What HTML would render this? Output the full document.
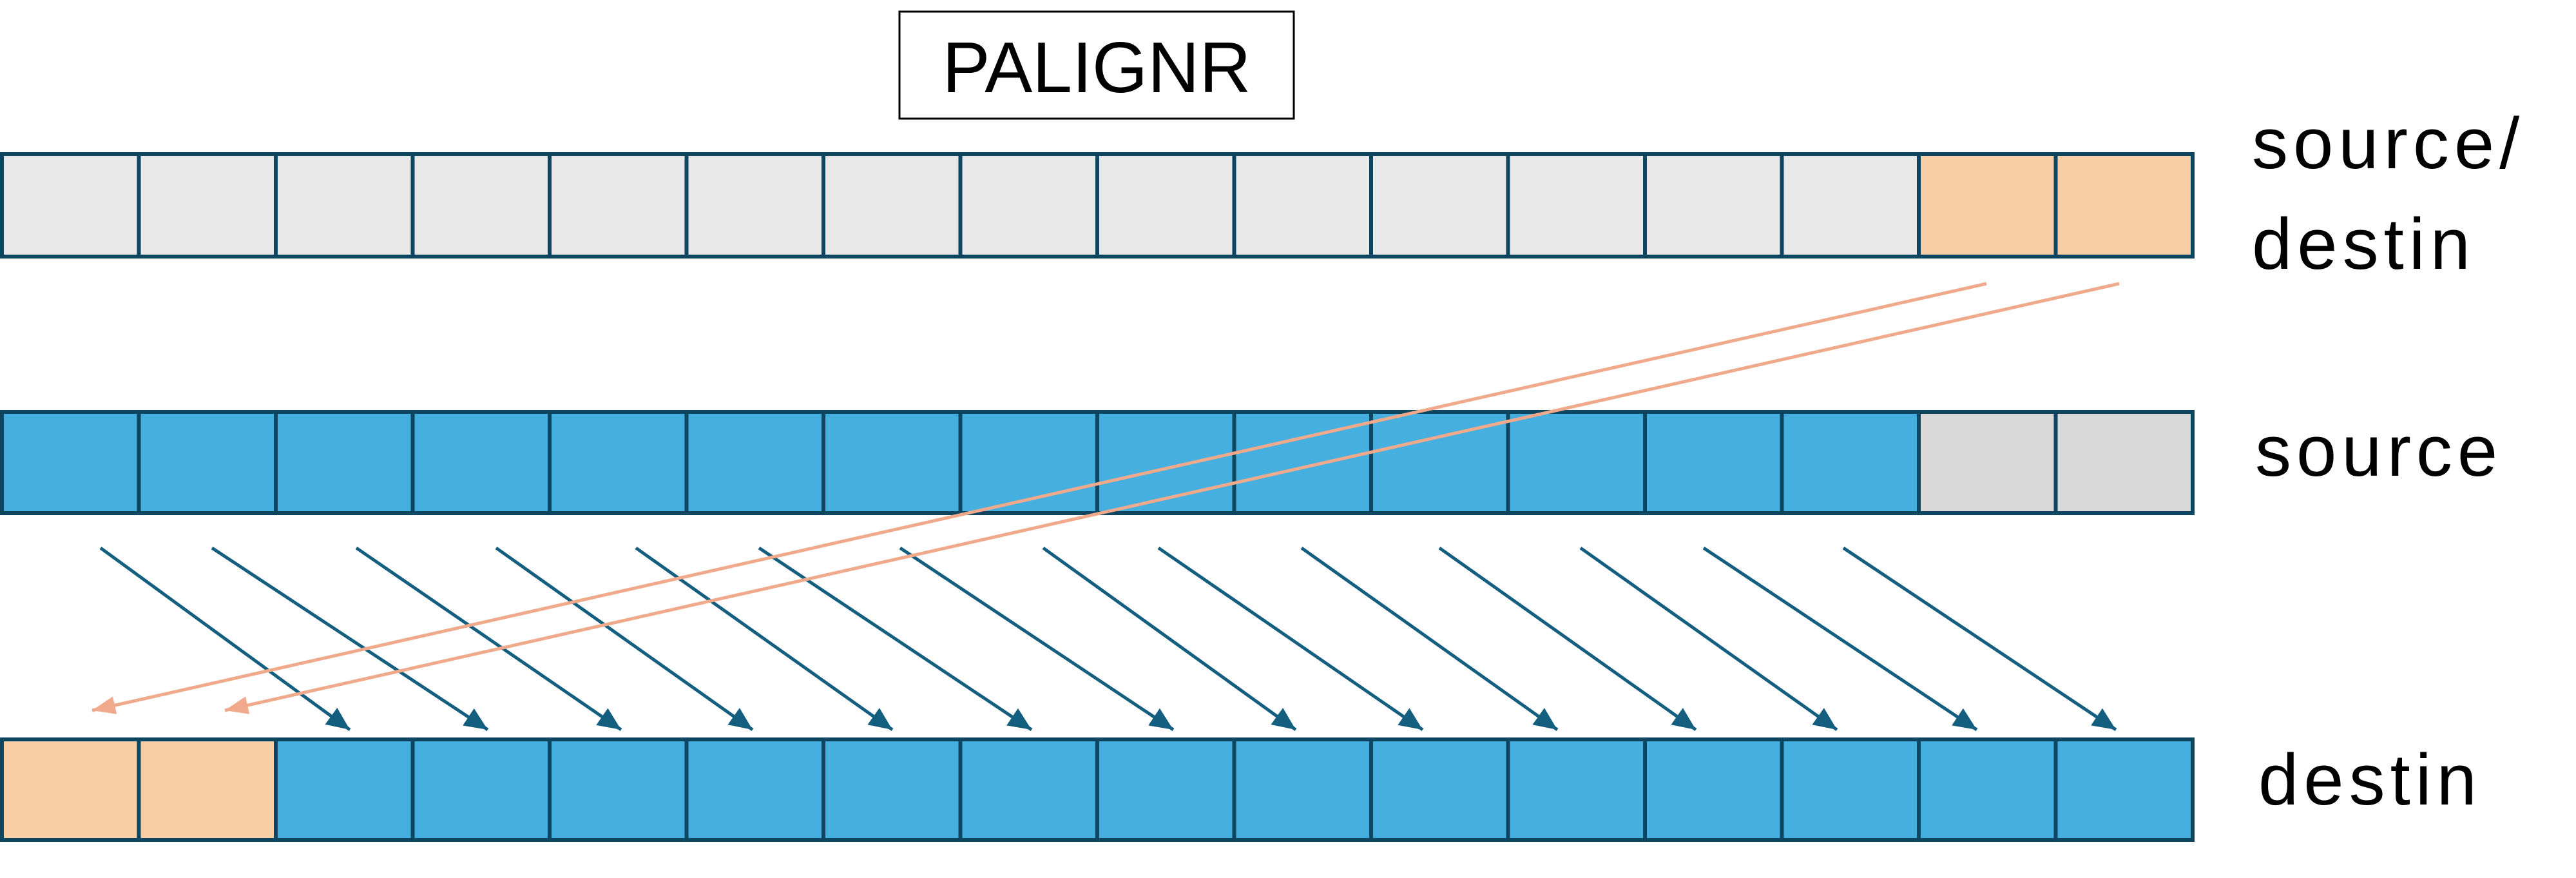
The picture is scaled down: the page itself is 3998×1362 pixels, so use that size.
<!DOCTYPE html>
<html><head><meta charset="utf-8"><style>
html,body{margin:0;padding:0;background:#fff;}
svg{display:block;}
</style></head><body>
<svg width="3998" height="1362" viewBox="0 0 3998 1362" xmlns="http://www.w3.org/2000/svg">
<defs>
<marker id="hb" markerUnits="userSpaceOnUse" markerWidth="40" markerHeight="40" viewBox="0 0 40 40" refX="36" refY="20" orient="auto"><path d="M0,4 L36,20 L0,36 Z" fill="#145e80"/></marker>
<marker id="ho" markerUnits="userSpaceOnUse" markerWidth="40" markerHeight="40" viewBox="0 0 40 40" refX="36" refY="20" orient="auto"><path d="M0,6 L36,20 L0,34 Z" fill="#f0a98a"/></marker>
</defs>
<rect x="1396" y="18" width="612" height="166" fill="#fff" stroke="#000" stroke-width="3"/>
<text x="1702" y="143" font-family="Liberation Sans, sans-serif" font-size="111" text-anchor="middle">PALIGNR</text>
<g id="cells" stroke="#0e4560" stroke-width="6"></g>
<g stroke="#145e80" stroke-width="5" fill="none" id="blue"></g>
<g stroke="#f0a98a" stroke-width="5" fill="none">
<line x1="3083" y1="440" x2="143" y2="1102" marker-end="url(#ho)"/>
<line x1="3289" y1="440" x2="349" y2="1102" marker-end="url(#ho)"/>
</g>
<g font-family="Liberation Sans, sans-serif" font-size="112" fill="#000" letter-spacing="8">
<text x="3495" y="261">source/</text>
<text x="3495" y="417">destin</text>
<text x="3500" y="738">source</text>
<text x="3505" y="1248">destin</text>
</g>
<script>
var ns="http://www.w3.org/2000/svg";
var g=document.getElementById('cells');
var rows=[[239,159,function(i){return i>=14?'#f8cfa5':'#e8e8e8';}],[639,157,function(i){return i>=14?'#d9d9d9':'#45afdf';}],[1147,156,function(i){return i<2?'#f8cfa5':'#45afdf';}]];
rows.forEach(function(r){for(var i=0;i<16;i++){var e=document.createElementNS(ns,'rect');e.setAttribute('x',3+i*212.5);e.setAttribute('y',r[0]);e.setAttribute('width',212.5);e.setAttribute('height',r[1]);e.setAttribute('fill',r[2](i));g.appendChild(e);}});
var s=[156,329,553,770,987,1178,1397,1619,1798,2020,2234,2453,2644,2861];
var t=[543,757,964,1168,1385,1601,1821,2011,2208,2417,2632,2851,3068,3284];
var b=document.getElementById('blue');
for(var i=0;i<14;i++){var l=document.createElementNS(ns,'line');l.setAttribute('x1',s[i]);l.setAttribute('y1',850);l.setAttribute('x2',t[i]);l.setAttribute('y2',1132);l.setAttribute('marker-end','url(#hb)');b.appendChild(l);}
</script>
</svg>
</body></html>
